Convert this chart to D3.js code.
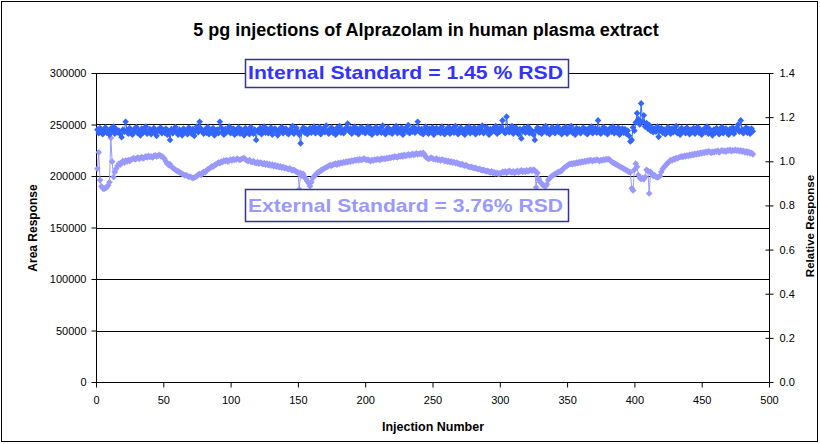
<!DOCTYPE html>
<html><head><meta charset="utf-8">
<script src="https://cdn.jsdelivr.net/npm/d3@7"></script>
<style>body{margin:0;background:#fff}svg{display:block}text{font-family:Arial,"Liberation Sans",sans-serif}</style>
</head><body><svg id="c" width="820" height="444"></svg>
<script>
const title = "5 pg injections of Alprazolam in human plasma extract";
const xTicks = [0,50,100,150,200,250,300,350,400,450,500];
const yTicks = [0,50000,100000,150000,200000,250000,300000];
const y2Ticks = [0.0,0.2,0.4,0.6,0.8,1.0,1.2,1.4];
const internalLabel = "Internal Standard = 1.45 % RSD";
const externalLabel = "External Standard = 3.76% RSD";

const internalStd = [
245000,241500,246500,243000,240500,244500,247000,242000,244000,240000,246000,243500,248000,241000,245500,242500,244000,240500,237600,245000,
243000,252700,244500,241000,246500,242500,240000,245000,243500,247500,241500,244000,239500,246000,242000,244500,248000,241000,243000,245500,
240500,244000,246500,242000,239000,245000,243500,247000,241500,244500,242000,246000,240000,243500,235000,245500,241500,244000,247500,242500,
240000,245000,243000,239500,246000,242500,244500,240500,247000,243000,241000,245500,239000,244000,248000,242500,252700,246000,243500,241000,
245000,242000,247500,240500,244000,242500,246500,239500,243500,245000,241500,252700,247000,243000,240000,245500,242500,244500,248000,241500,
243000,246000,240000,244500,242000,247000,241000,245000,243000,239500,246500,242500,244000,240500,247500,243500,241000,245000,235000,244000,
242500,246500,240500,244000,248000,242000,245500,241500,243500,247000,240000,244500,246000,242500,239500,245000,243000,247500,241500,244000,
246000,242000,240500,245000,243500,248500,241000,244000,246500,242500,240000,231700,244500,247000,242000,245500,240500,243500,246500,242000,
244500,248000,241500,245000,243000,247500,240500,244000,246000,242500,249000,243500,241000,245500,247000,242000,244500,240000,246500,243000,
248500,242000,245000,241500,244000,247000,251000,243500,246000,241000,244500,248000,242500,245500,240500,244000,247500,243000,245500,241500,
244000,248000,242000,246500,240000,245000,243000,247500,241500,244500,246000,242000,249000,243000,240500,245500,247000,242500,244500,241000,
246000,243500,248500,241500,245000,242500,247000,240000,244000,246500,243000,249500,241500,245000,243000,247500,242000,244500,252700,246000,
242000,245500,240500,244000,248000,243000,241000,246000,243500,247000,240000,244500,246500,242500,245000,241500,248000,243500,240500,245000,
243000,247500,241000,244500,246000,242000,248500,243500,240500,245500,247000,242500,244000,240000,246500,243500,248000,241500,245000,243000,
247000,240500,244500,246500,242000,245000,249000,241500,244000,247500,243000,240000,245500,242500,246000,244000,248500,241000,245000,243000,
247500,254000,244000,241500,257600,246000,242500,245000,248500,241000,244500,247000,243000,240500,245500,236500,243500,246500,242000,244500,
248000,241500,245000,243000,240000,235000,244500,247000,242500,245500,241000,246000,243500,248500,242000,245000,240500,244000,247500,243000,
241500,245500,248000,242500,244500,240500,246000,243000,247500,241000,245000,243500,248500,242000,244500,240000,246500,243000,245500,241500,
244500,247000,242500,245000,240500,246000,243500,248000,241500,244500,246500,242000,254000,245000,241000,244000,247500,242500,245500,240500,
244000,246500,243000,248000,241500,245000,242500,247000,240000,244500,246000,242000,245500,241000,244000,239000,233500,235000,247000,244000,
252000,261000,255000,250000,270500,253000,259000,248000,251500,246000,249500,244000,247000,242500,245500,243000,248000,238000,244500,246500,
242000,245000,240500,244000,247500,243000,241000,246000,242500,245000,248500,241500,244000,240000,246500,243000,245000,241500,247000,243500,
240500,245000,242500,246500,241000,244500,247500,242000,245000,240000,244000,246000,242500,248000,241000,245500,243000,239500,245000,242000,
246500,243500,240500,245000,247500,241500,244000,246000,242500,240000,245500,243000,247000,241000,244500,246500,250000,243000,254000,245000,
241500,244500,247000,242000,245500,241000,246000,243500
];

const externalStd = [
207000,223000,196000,190000,188000,187500,188500,189000,191000,194000,237000,214000,199000,204000,207000,210000,212000,211000,213000,214500,
213000,215000,214000,215500,214500,216000,216500,217500,216000,217000,218000,216500,217500,218500,217000,218000,219000,218000,219500,218500,
219000,218000,219500,220000,219000,219500,220500,219500,219000,218000,216500,214000,212000,210500,211500,209000,208000,207000,206000,205000,
204500,203500,203000,202000,201500,200500,201000,200000,199000,199500,198500,198000,198500,199000,200000,201500,202000,201000,203000,204000,
203500,205000,206500,207000,208000,209500,209000,210500,211000,212000,213000,212500,214000,213500,215000,214500,215500,214000,215000,216000,
215000,216500,215500,216000,217000,216000,215500,216500,217000,217500,216000,215000,214500,215500,214000,213500,214500,213000,212500,213500,
212000,213000,212500,211500,212500,211000,212000,210500,211500,210000,211000,209500,210500,209000,210000,208500,209500,208000,209000,207500,
208000,207000,206500,207500,206000,205500,206000,205000,204000,203500,187000,203000,200000,202000,199000,197000,195000,193000,190000,194000,
198000,199500,201000,202500,203500,204000,205500,206000,207000,207500,208500,209000,210000,210500,210000,211000,211500,212000,211000,212500,
212000,213000,212500,213500,213000,214000,213500,214500,214000,215000,214500,215500,215000,216000,215000,216500,215500,216000,217000,216000,
215500,216000,215000,214500,215500,215000,216000,215500,216500,216000,215500,217000,216500,217000,216500,217500,217000,218000,217500,218500,
218000,219000,218500,218000,219500,219000,220000,219000,220500,219500,220000,221000,220000,220500,221500,220500,221000,222000,221000,221500,
222000,221500,222500,221000,218500,217500,216500,217000,218000,217000,216500,216000,217000,215500,216000,215000,216000,215500,214500,215000,
214000,214500,213500,214000,213000,213500,212500,213000,212000,211500,211000,211500,210500,210000,210500,209500,209000,208500,209000,208000,
207500,208000,207000,206500,207000,206000,205500,206000,205000,204500,205000,204000,203500,204500,203000,203500,202500,203000,202000,202500,
203000,204000,203500,204500,203000,204000,205000,204000,203500,204500,203000,204000,205000,203500,204500,205500,204000,205000,204000,205500,
204500,205500,206000,205000,206000,205500,189000,203000,197000,194000,193000,191000,190500,190000,192000,196000,198000,199000,200500,201000,
202000,202500,203500,204000,204500,205000,207000,208000,209000,210000,211000,211500,212000,211500,212500,212000,213000,212500,213500,213000,
214000,213500,214500,214000,215000,214500,215500,215000,214500,215500,215000,216000,215500,214500,215500,215000,216000,215500,216500,216000,
216500,215000,214000,213000,212500,211500,211000,210000,209500,208500,208000,207000,206500,205500,205000,204000,203500,188000,186000,206000,
212000,209000,201000,198000,197000,198000,197000,199000,206000,205000,183000,204000,202000,200000,201000,199000,198500,199000,200000,204000,
207000,208500,210000,211500,213000,214000,215500,215000,216500,216000,217500,217000,218000,218500,219000,218500,219500,219000,220000,219500,
220500,220000,221000,220500,221500,221000,222000,221500,222500,222000,223000,222500,223500,223000,224000,223500,222500,223500,223000,224000,
223500,224500,223000,224000,225000,224000,224500,223500,225000,224500,225500,224000,225000,224500,225500,224500,225000,224000,225000,223500,
224500,223000,224000,222500,223500,222000,222500,221000
];

const colors = {internal:"#3366FF", external:"#9999FF", box:"#333399"};

const svg = d3.select("#c");
const m = {l:96, r:769, t:73, b:382};
const x = d3.scaleLinear().domain([0,500]).range([m.l, m.r]);
const y = d3.scaleLinear().domain([0,300000]).range([m.b, m.t]);
const y2 = d3.scaleLinear().domain([0,1.4]).range([m.b, m.t]);

svg.append("rect").attr("x",1.5).attr("y",1.5).attr("width",816).attr("height",440)
  .attr("fill","#fff").attr("stroke","#000").attr("stroke-width",1);

svg.append("text").attr("x",426).attr("y",36).attr("text-anchor","middle")
  .attr("font-size",18).attr("font-weight","bold").text(title);

svg.append("g").selectAll("line").data(yTicks.filter(d=>d>0)).join("line")
  .attr("x1",m.l).attr("x2",m.r)
  .attr("y1",d=>Math.round(y(d))+0.5).attr("y2",d=>Math.round(y(d))+0.5)
  .attr("stroke","#000").attr("stroke-width",1);

const fmtInt = d3.format("d");
const gL = svg.append("g").attr("transform",`translate(${m.l+0.5},0)`)
  .call(d3.axisLeft(y).tickValues(yTicks).tickFormat(fmtInt).tickSize(5).tickPadding(5));
const gR = svg.append("g").attr("transform",`translate(${m.r+0.5},0)`)
  .call(d3.axisRight(y2).tickValues(y2Ticks).tickFormat(d3.format(".1f")).tickSize(4).tickPadding(6));
gR.selectAll(".tick line").attr("x1",-4);
const gB = svg.append("g").attr("transform",`translate(0,${m.b+0.5})`)
  .call(d3.axisBottom(x).tickValues(xTicks).tickFormat(fmtInt).tickSize(5).tickPadding(9));
[gL,gR,gB].forEach(g=>{
  g.select(".domain").attr("stroke","#000");
  g.selectAll(".tick line").attr("stroke","#000");
  g.selectAll("text").attr("font-size",11).attr("fill","#000").attr("font-family","Arial, 'Liberation Sans', sans-serif");
});
gL.select(".domain").attr("d",`M0,${m.t}V${m.b}`);
gR.select(".domain").attr("d",`M0,${m.t}V${m.b}`);
gB.select(".domain").attr("d",`M${m.l},0H${m.r}`);

svg.append("text").attr("transform","translate(37,228) rotate(-90)").attr("text-anchor","middle")
  .attr("font-size",12).attr("font-weight","bold").text("Area Response");
svg.append("text").attr("transform","translate(814,226) rotate(-90)").attr("text-anchor","middle")
  .attr("font-size",11.5).attr("font-weight","bold").text("Relative Response");
svg.append("text").attr("x",433).attr("y",431).attr("text-anchor","middle")
  .attr("font-size",12.5).attr("font-weight","bold").text("Injection Number");

const line = d3.line().x((d,i)=>x(i+1)).y(d=>y(d));
const sym = d3.symbol(d3.symbolSquare, 22);
function series(data, color){
  const g = svg.append("g");
  g.append("path").datum(data).attr("d",line).attr("fill","none").attr("stroke",color).attr("stroke-width",1);
  g.selectAll("path.pt").data(data).join("path").attr("class","pt")
    .attr("transform",(d,i)=>`translate(${x(i+1)},${y(d)}) rotate(45)`).attr("d",sym).attr("fill",color);
}
series(externalStd, colors.external);
series(internalStd, colors.internal);

function label(txt, color, bx, by, bw, bh, ty){
  svg.append("rect").attr("x",bx+0.5).attr("y",by+0.5).attr("width",bw).attr("height",bh)
    .attr("fill","#fff").attr("stroke",colors.box).attr("stroke-width",1.5);
  svg.append("text").attr("x",bx+3).attr("y",ty).attr("font-size",19).attr("font-weight","bold")
    .attr("fill",color).attr("textLength",315).attr("lengthAdjust","spacingAndGlyphs").text(txt);
}
label(internalLabel, "#3333FF", 245, 59, 323, 28, 79);
label(externalLabel, colors.external, 245, 189, 323, 32, 212);
</script></body></html>
